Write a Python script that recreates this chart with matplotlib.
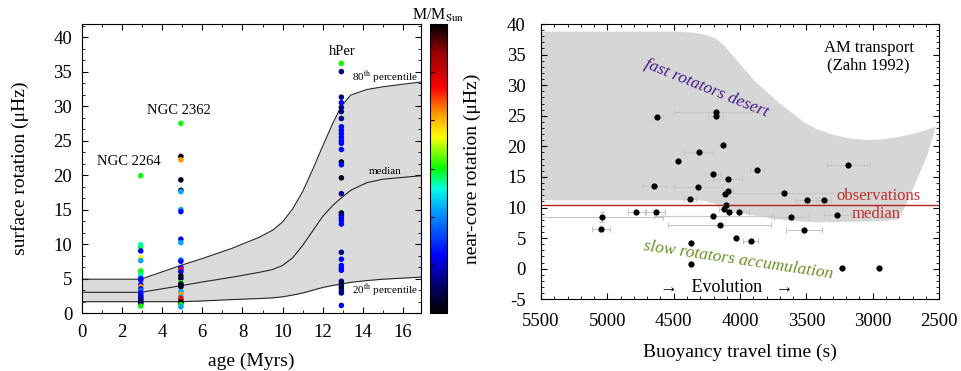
import matplotlib
matplotlib.use("Agg")
import matplotlib.pyplot as plt
import numpy as np
from matplotlib.colors import LinearSegmentedColormap
from matplotlib.ticker import MultipleLocator, AutoMinorLocator

plt.rcParams['font.family'] = ['Liberation Serif', 'DejaVu Serif']
plt.rcParams['mathtext.fontset'] = 'stix'
plt.rcParams['axes.unicode_minus'] = False

# colour codes (fraction of the colour bar)
K0, NV, BL, LB, CY, GR, YE, OG, RD = 0.03, 0.11, 0.2, 0.36, 0.43, 0.5, 0.61, 0.69, 0.78

# ---- left panel data: clusters
ngc2264_age = 2.93
ngc2264_rot = [19.9, 9.9, 9.5, 9.0, 8.0, 7.6, 6.1, 5.7, 5.3, 5.0, 4.8, 4.1, 3.8,
               3.5, 3.2, 3.0, 2.7, 2.4, 2.2, 2.0, 1.8, 1.5, 1.3, 1.0]
ngc2264_col = [GR, 0.44, 0.47, BL, YE, LB, GR, 0.47, CY, BL, BL, BL, OG,
               BL, LB, BL, BL, BL, NV, BL, NV, K0, NV, GR]

ngc2362_age = 4.93
ngc2362_rot = [27.5, 22.7, 22.2, 19.3, 17.8, 17.6, 15.0, 14.7, 10.7, 10.2, 7.7, 7.5,
               6.6, 6.3, 6.0, 5.4, 5.0, 4.4, 4.2, 4.0, 3.8, 3.1, 2.7, 2.3, 2.1,
               1.9, 1.6, 1.4, 1.2, 0.9]
ngc2362_col = [GR, K0, OG, K0, K0, LB, LB, BL, BL, LB, LB, BL,
               BL, RD, BL, K0, K0, GR, K0, K0, K0, LB, OG, LB, RD,
               RD, K0, K0, GR, LB]

hper_age = 12.93
hper_rot = [36.2, 35.0, 31.3, 30.5, 29.8, 29.2, 28.2, 27.0, 26.5, 26.0, 25.5, 25.0,
            24.6, 23.7, 21.9, 21.5, 19.6, 17.3, 14.5, 14.2, 13.8, 13.4, 12.9,
            8.8, 7.8, 6.9, 6.5, 6.2, 4.6, 4.2, 3.9, 3.6, 3.2, 2.9, 1.1]
hper_col = [GR, NV, NV, BL, NV, NV, NV, BL, BL, BL, BL, BL,
            BL, BL, K0, BL, K0, NV, K0, NV, BL, BL, BL,
            NV, BL, BL, BL, BL, NV, K0, NV, K0, NV, NV, BL]

# model percentiles
model_age = [0, 2.93, 4.93, 6.0, 7.5, 8.85, 9.5, 10.0, 10.5, 11.0, 11.5, 12.0,
             12.5, 12.93, 13.4, 14.2, 15.0, 16.9]
p80 = [4.9, 4.9, 6.9, 7.9, 9.4, 11.0, 12.0, 13.2, 15.1, 17.6, 20.8, 24.2,
       27.5, 30.0, 31.6, 32.4, 32.8, 33.5]
p50 = [3.0, 3.0, 3.96, 4.5, 5.2, 5.9, 6.3, 6.9, 8.0, 9.8, 11.9, 14.0,
       15.6, 16.7, 17.8, 18.9, 19.4, 19.9]
p20 = [1.64, 1.64, 1.64, 1.75, 1.95, 2.1, 2.2, 2.35, 2.6, 2.9, 3.3, 3.7,
       4.0, 4.2, 4.45, 4.7, 4.9, 5.2]

# ---- right panel data
tau = [4624, 4180, 4185, 4127, 4313, 4466, 4205, 4092, 3873, 4649, 4318, 4092,
       4114, 3670, 4380, 3494, 3371, 4107, 4122, 4082, 4011, 4782, 4636, 5038,
       4205, 5048, 4154, 3615, 3266, 3519, 4029, 3921, 4373, 4370, 3228, 2952, 3183]
core_rot = [24.75, 25.55, 25.0, 20.3, 19.1, 17.6, 15.5, 14.7, 16.1, 13.6, 13.3, 12.65,
            12.2, 12.3, 11.35, 11.2, 11.3, 10.4, 9.7, 9.2, 9.2, 9.2, 9.2, 8.5,
            8.6, 6.55, 7.15, 8.45, 8.8, 6.3, 5.1, 4.6, 4.2, 0.75, 0.15, 0.1, 16.9]
tau_err = [40, 320, 60, 0, 110, 0, 60, 110, 50, 90, 180, 40,
           30, 450, 45, 90, 60, 20, 40, 0, 75, 65, 70, 460,
           445, 70, 390, 130, 100, 135, 0, 55, 0, 0, 0, 0, 165]
rot_err = [0, 0, 0, 0, 0, 0, 0, 0, 0, 0, 0, 0,
           0, 0.4, 0, 0, 0, 0, 0, 0, 0, 0, 0, 0.8,
           0, 0, 0, 0, 0, 0, 0, 0, 0, 0, 0, 0, 0]
obs_median = 10.35

# outline of the "fast rotators desert" (model region)
desert_tau = [5500, 4476, 4350, 4250, 4174, 4112, 4049, 3974, 3898, 3823, 3748,
              3672, 3597, 3509, 3421, 3296, 3170, 3045, 2919, 2794, 2668, 2525,
              2593, 2668, 2744, 2806,
              2944, 3195, 3446, 3622, 3773, 3949, 4049, 4124, 4200, 4275, 4350, 5500]
desert_rot = [38.75, 38.75, 38.58, 38.2, 37.5, 36.3, 34.7, 32.8, 30.85, 29.4, 27.9,
              26.5, 25.3, 23.8, 22.8, 21.86, 21.3, 21.04, 21.15, 21.58, 22.2, 23.2,
              18.3, 14.5, 10.7, 8.0,
              7.75, 7.64, 7.58, 7.86, 8.24, 8.9, 9.33, 10.0, 10.7, 11.1, 11.2, 11.2]

cmap = LinearSegmentedColormap.from_list('rot', [
    (0.0, (0, 0, 0)), (0.1, (0, 0, 0.45)), (0.2, (0, 0, 1)), (0.36, (0, 0.65, 1)),
    (0.43, (0, 1, 0.9)), (0.5, (0, 1, 0)), (0.61, (1, 1, 0)), (0.69, (1, 0.6, 0)),
    (0.78, (1, 0, 0)), (0.9, (0.6, 0, 0)), (1.0, (0, 0, 0))])

fig = plt.figure(figsize=(9.61, 3.71), dpi=100)
ax1 = fig.add_axes([0.0853, 0.1563, 0.3528, 0.779])
cax = fig.add_axes([0.4475, 0.1563, 0.0177, 0.779])
ax2 = fig.add_axes([0.563, 0.1933, 0.4142, 0.742])

# ---- left panel
ax1.fill_between(model_age, p20, p80, color='0.86', lw=0)
for p in (p20, p50, p80):
    ax1.plot(model_age, p, color='0.15', lw=0.8)

for age, rot, col in ((ngc2264_age, ngc2264_rot, ngc2264_col),
                      (ngc2362_age, ngc2362_rot, ngc2362_col),
                      (hper_age, hper_rot, hper_col)):
    sc = ax1.scatter(np.full(len(rot), age), rot, c=col, cmap=cmap, vmin=0, vmax=1,
                     s=16, lw=0, zorder=3)

ax1.text(2.35, 21.9, 'NGC 2264', ha='center', va='center', fontsize=10.5)
ax1.text(4.85, 29.4, 'NGC 2362', ha='center', va='center', fontsize=10.5)
ax1.text(12.95, 37.9, 'hPer', ha='center', va='center', fontsize=10.5)
ax1.text(13.45, 34.2, r'80$^{\rm th}$ percentile', va='center', fontsize=8)
ax1.text(15.1, 20.5, 'median', ha='center', va='center', fontsize=8)
ax1.text(13.45, 3.3, r'20$^{\rm th}$ percentile', va='center', fontsize=8)

ax1.set_xlim(0, 16.9)
ax1.set_ylim(0, 41.9)
ax1.xaxis.set_major_locator(MultipleLocator(2))
ax1.xaxis.set_minor_locator(MultipleLocator(1))
ax1.yaxis.set_major_locator(MultipleLocator(5))
ax1.yaxis.set_minor_locator(AutoMinorLocator(3))
ax1.tick_params(which='both', direction='in', top=True, right=True, labelsize=13.5)
ax1.tick_params(which='major', length=4)
ax1.tick_params(which='minor', length=2)
ax1.tick_params(axis='x', pad=8)
ax1.tick_params(axis='y', pad=7)
ax1.set_xlabel('age (Myrs)', fontsize=14, labelpad=8)
ax1.set_ylabel('surface rotation (μHz)', fontsize=14, labelpad=18)

cb = fig.colorbar(sc, cax=cax)
cb.set_ticks(np.linspace(0, 1, 7)[1:-1])
cb.ax.tick_params(direction='in', length=3, labelright=False, left=True, right=False)
cb.outline.set_linewidth(0.8)
cb.set_label('near-core rotation (μHz)', fontsize=14, labelpad=12)
cax.set_title(r'M/M$_{\rm Sun}$', fontsize=11.5, pad=3)

# ---- right panel
ax2.fill(desert_tau, desert_rot, color='0.84', lw=0)
ax2.axhline(obs_median, color='#b22222', lw=1)
ax2.errorbar(tau, core_rot, xerr=tau_err, yerr=rot_err, fmt='none', ecolor='0.78',
             elinewidth=0.8, capsize=2, capthick=0.8)
ax2.scatter(tau, core_rot, color='black', s=20, lw=0, zorder=3)

ax2.text(3032, 34.7, 'AM transport\n(Zahn 1992)', ha='center', va='center',
         fontsize=12, linespacing=1.1)
ax2.text(4257, 29.5, 'fast rotators desert', ha='center', va='center', fontsize=12.5,
         style='italic', color='#4b1a8c', rotation=-22)
ax2.text(4011, 1.4, 'slow rotators accumulation', ha='center', va='center', fontsize=12.5,
         style='italic', color='#6b9023', rotation=-8.5)
ax2.text(2957, 11.9, 'observations', ha='center', va='center', fontsize=12, color='#c0302a')
ax2.text(2977, 8.95, 'median', ha='center', va='center', fontsize=12, color='#c0302a')
ax2.text(4099, -3.0, '→   Evolution   →', ha='center', va='center', fontsize=13)

ax2.set_xlim(5500, 2500)
ax2.set_ylim(-5, 40)
ax2.xaxis.set_major_locator(MultipleLocator(500))
ax2.xaxis.set_minor_locator(MultipleLocator(100))
ax2.yaxis.set_major_locator(MultipleLocator(5))
ax2.yaxis.set_minor_locator(MultipleLocator(1))
ax2.tick_params(which='both', direction='in', top=True, right=True, labelsize=13.5)
ax2.tick_params(which='major', length=4)
ax2.tick_params(which='minor', length=2)
ax2.tick_params(axis='x', pad=10)
ax2.tick_params(axis='y', pad=11)
ax2.set_xlabel('Buoyancy travel time (s)', fontsize=14, labelpad=10)

fig.savefig('out.png', dpi=100)
